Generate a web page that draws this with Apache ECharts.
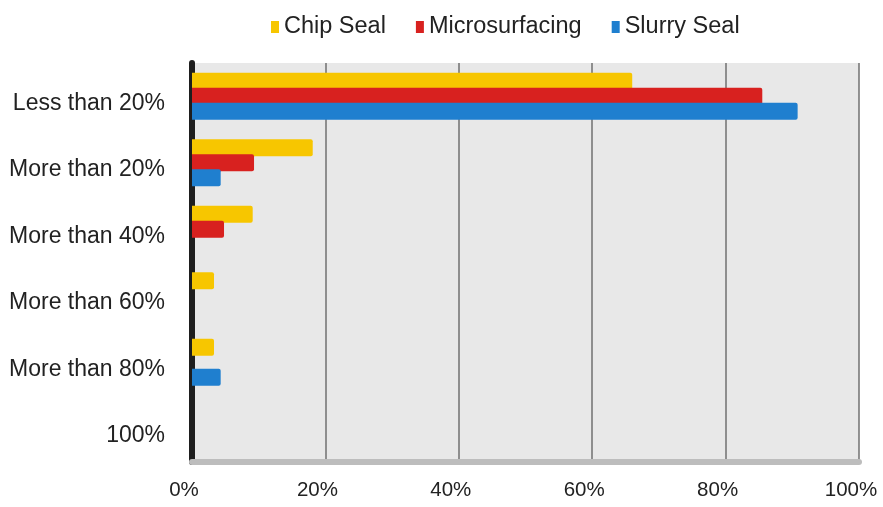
<!DOCTYPE html>
<html>
<head>
<meta charset="utf-8">
<script src="https://cdn.jsdelivr.net/npm/echarts@6/dist/echarts.min.js"></script>
<style>
html,body{margin:0;padding:0;background:#fff;}
#chart{width:883px;height:507px;}
</style>
</head>
<body>
<div id="chart"></div>
<script>
const categories = ['Less than 20%', 'More than 20%', 'More than 40%', 'More than 60%', 'More than 80%', '100%'];
const chipSeal = [66.0, 18.1, 9.1, 3.3, 3.3, 0];
const microsurfacing = [85.5, 9.3, 4.8, 0, 0, 0];
const slurrySeal = [90.8, 4.3, 0, 0, 4.3, 0];
const xTicks = [0, 20, 40, 60, 80, 100];

const chart = echarts.init(document.getElementById('chart'));
const font = 'Liberation Sans, Arial, sans-serif';
function barSeries(name, data, color) {
  return {
    name: name, type: 'bar', data: data, barWidth: 17, barGap: '-12%', barCategoryGap: '25%',
    itemStyle: { color: color, borderRadius: [0, 2, 2, 0] }
  };
}
chart.setOption({
  animation: false,
  backgroundColor: '#ffffff',
  legend: {
    top: 10, left: 266, itemWidth: 8, itemHeight: 12, itemGap: 30,
    icon: 'rect',
    textStyle: { fontFamily: font, fontSize: 23.5, color: '#222' },
    data: ['Chip Seal', 'Microsurfacing', 'Slurry Seal']
  },
  grid: {
    left: 192, right: 24, top: 63, bottom: 45,
    show: true, backgroundColor: '#e8e8e8', borderWidth: 0
  },
  xAxis: {
    type: 'value', min: 0, max: 100, interval: 20,
    axisLabel: { formatter: v => v + '%', fontFamily: font, fontSize: 20.5, color: '#222', margin: 18, padding: [0, 16, 0, 0] },
    splitLine: { show: true, lineStyle: { color: '#707070', width: 1.5 } },
    axisLine: { show: true, lineStyle: { color: '#bdbdbd', width: 6 } },
    axisTick: { show: false }
  },
  yAxis: {
    type: 'category', inverse: true, data: categories,
    axisLabel: {
      margin: 27,
      formatter: v => '{c|' + v + '}',
      rich: { c: { fontFamily: font, fontSize: 23, color: '#222', padding: [14, 0, 0, 0] } }
    },
    axisLine: { show: true, lineStyle: { color: '#1e1e1e', width: 6 } },
    axisTick: { show: false },
    splitLine: { show: false }
  },
  series: [
    barSeries('Chip Seal', chipSeal, '#f7c600'),
    barSeries('Microsurfacing', microsurfacing, '#d8211f'),
    barSeries('Slurry Seal', slurrySeal, '#1f7fcf')
  ]
});
</script>
</body>
</html>
